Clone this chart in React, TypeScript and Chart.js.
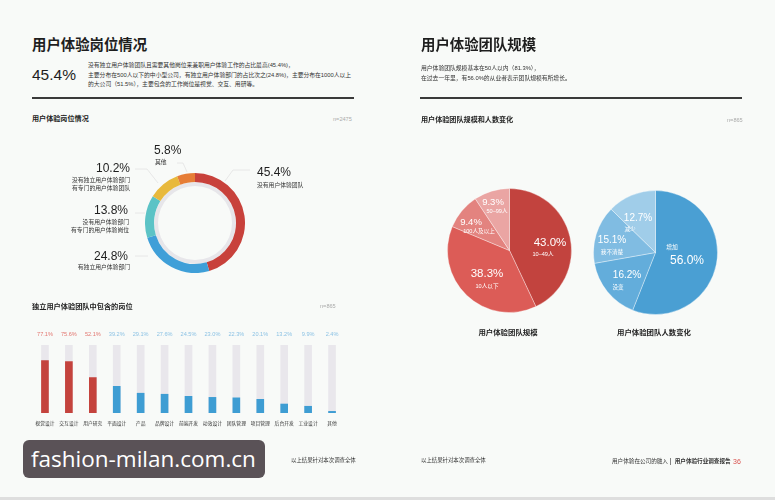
import React, { useEffect, useRef } from "react";
import { Chart, registerables } from "chart.js";
Chart.register(...registerables);

// ---- data ----
const ringLabels = ["没有用户体验团队", "有独立用户体验部门", "没有用户体验部门 有专门的用户体验岗位", "没有独立用户体验部门 有专门的用户体验团队", "其他"];
const ringValues = [45.4, 24.8, 13.8, 10.2, 5.8];
const ringColors = ["#c8413b", "#3f9fd8", "#5cc3c6", "#e8b93c", "#e67d36"];

const roleLabels = ["视觉设计", "交互设计", "用户研究", "平面设计", "产品", "品牌设计", "前端开发", "动效设计", "团队管理", "项目管理", "后台开发", "工业设计", "其他"];
const roleValues = [77.1, 75.6, 52.1, 39.2, 29.1, 27.6, 24.5, 23.0, 22.3, 20.1, 13.2, 9.9, 2.4];
const roleHighlight = 3; // first N in red

const sizeLabels = ["10–49人", "10人以下", "100人及以上", "50–99人"];
const sizeValues = [43.0, 38.3, 9.4, 9.3];
const sizeColors = ["#c2433e", "#dc5c57", "#e3837f", "#eaa5a3"];

const changeLabels = ["增加", "没变", "我不清楚", "减少"];
const changeValues = [56.0, 16.2, 15.1, 12.7];
const changeColors = ["#4a9fd3", "#63addb", "#80bce2", "#a0cde9"];

const FONT = '"Liberation Sans", "Noto Sans CJK SC", sans-serif';

function T({ x, y, s, c = "#333", w = 400, a = "l", children }: any) {
  const tx = a === "l" ? "0" : a === "r" ? "-100%" : "-50%";
  return (
    <div
      style={{
        position: "absolute",
        left: x,
        top: y,
        transform: `translate(${tx}, -50%)`,
        whiteSpace: "nowrap",
        fontSize: s,
        lineHeight: 1,
        color: c,
        fontWeight: w,
      }}
    >
      {children}
    </div>
  );
}

export default function App() {
  const ringRef = useRef<HTMLCanvasElement>(null);
  const barRef = useRef<HTMLCanvasElement>(null);
  const pie1Ref = useRef<HTMLCanvasElement>(null);
  const pie2Ref = useRef<HTMLCanvasElement>(null);

  useEffect(() => {
    const base: any = {
      responsive: false,
      maintainAspectRatio: false,
      animation: false,
      events: [],
      plugins: { legend: { display: false }, tooltip: { enabled: false } },
    };

    const ring = new Chart(ringRef.current!, {
      type: "doughnut",
      data: {
        labels: ringLabels,
        datasets: [
          { data: ringValues, backgroundColor: ringColors, borderWidth: 0, weight: 9 } as any,
          { data: [100], backgroundColor: ["#e7e6ea"], borderWidth: 0, weight: 4 } as any,
        ],
      },
      options: { ...base, cutout: "74%" },
    });

    const barLabelPlugin = {
      id: "barLabels",
      afterDatasetsDraw(chart: any) {
        const { ctx, chartArea, scales } = chart;
        ctx.save();
        ctx.textAlign = "center";
        ctx.textBaseline = "middle";
        roleValues.forEach((v, i) => {
          const x = scales.x.getPixelForValue(i);
          ctx.font = `5.6px ${FONT}`;
          ctx.fillStyle = i < roleHighlight ? "#e27670" : "#8cc2e4";
          ctx.fillText(v.toFixed(1) + "%", x, chartArea.top - 11);
          ctx.font = `4.8px ${FONT}`;
          ctx.fillStyle = "#333";
          ctx.fillText(roleLabels[i], x, chartArea.bottom + 11);
        });
        ctx.restore();
      },
    };

    const bar = new Chart(barRef.current!, {
      type: "bar",
      data: {
        labels: roleLabels,
        datasets: [
          {
            data: roleValues,
            backgroundColor: roleValues.map((_, i) => (i < roleHighlight ? "#c4433d" : "#3e9dd3")),
            barThickness: 7,
            grouped: false,
            order: 0,
          } as any,
          {
            data: roleValues.map(() => 100),
            backgroundColor: "#e9e7ec",
            barThickness: 7,
            grouped: false,
            order: 1,
          } as any,
        ],
      },
      options: {
        ...base,
        layout: { padding: { left: 13, right: 16, top: 25, bottom: 22 } },
        scales: {
          x: { display: false },
          y: { display: false, min: 0, max: 100 },
        },
      },
      plugins: [barLabelPlugin],
    });

    const pie1 = new Chart(pie1Ref.current!, {
      type: "pie",
      data: {
        labels: sizeLabels,
        datasets: [{ data: sizeValues, backgroundColor: sizeColors, borderWidth: 1, borderColor: "rgba(255,255,255,0.35)" }],
      },
      options: { ...base },
    });
    const pie2 = new Chart(pie2Ref.current!, {
      type: "pie",
      data: {
        labels: changeLabels,
        datasets: [{ data: changeValues, backgroundColor: changeColors, borderWidth: 1, borderColor: "rgba(255,255,255,0.35)" }],
      },
      options: { ...base },
    });

    return () => {
      ring.destroy();
      bar.destroy();
      pie1.destroy();
      pie2.destroy();
    };
  }, []);

  const abs = (l: number, t: number): any => ({ position: "absolute", left: l, top: t });
  const W = "#fff";

  return (
    <div
      style={{
        position: "fixed",
        left: 0,
        top: 0,
        width: 775,
        height: 500,
        background: "#f8faf8",
        overflow: "hidden",
        fontFamily: FONT,
        color: "#222",
      }}
    >
      {/* ---------- left page ---------- */}
      <T x={32} y={45} s={14.4} w={700} c="#1e1e1e">用户体验岗位情况</T>
      <T x={32} y={75} s={15.5} w={400} c="#1e1e1e">45.4%</T>
      <T x={88} y={66} s={5.8} c="#333">没有独立用户体验团队且需要其他岗位来兼职用户体验工作的占比最高(45.4%)，</T>
      <T x={88} y={76} s={5.8} c="#333">主要分布在500人以下的中小型公司，有独立用户体验部门的占比次之(24.8%)，主要分布在1000人以上</T>
      <T x={88} y={85} s={5.8} c="#333">的大公司（51.5%），主要包含的工作岗位是视觉、交互、用研等。</T>
      <div style={{ ...abs(32, 97), width: 322, height: 1.5, background: "#3a3a3a" }} />
      <T x={32} y={120} s={7.1} w={700} c="#222">用户体验岗位情况</T>
      <T x={333} y={120} s={5.6} c="#aaa">n=2475</T>

      <canvas ref={ringRef} width={100} height={100} style={{ ...abs(145, 173), width: 100, height: 100 }} />

      <svg style={{ ...abs(0, 0), pointerEvents: "none" }} width={775} height={500}>
        <g stroke="#e2e2e2" strokeWidth={0.8} fill="none">
          <polyline points="250,170 233,170 225,181" />
          <polyline points="177,163 183,163 187,172" />
          <polyline points="135,169 147,169 158,183" />
          <polyline points="135,213 145,213" />
          <polyline points="135,256 148,256" />
        </g>
      </svg>

      <T x={257} y={172} s={12} w={500} c="#1e1e1e">45.4%</T>
      <T x={257} y={186} s={5.8} c="#333">没有用户体验团队</T>
      <T x={154} y={150} s={12} w={500} c="#1e1e1e">5.8%</T>
      <T x={155} y={163} s={5.8} c="#333">其他</T>
      <T x={130} y={168} s={12} w={500} c="#1e1e1e" a="r">10.2%</T>
      <T x={130} y={181} s={5.8} c="#333" a="r">没有独立用户体验部门</T>
      <T x={130} y={189} s={5.8} c="#333" a="r">有专门的用户体验团队</T>
      <T x={128} y={210} s={12} w={500} c="#1e1e1e" a="r">13.8%</T>
      <T x={129} y={223} s={5.8} c="#333" a="r">没有用户体验部门</T>
      <T x={129} y={231} s={5.8} c="#333" a="r">有专门的用户体验岗位</T>
      <T x={128} y={256} s={12} w={500} c="#1e1e1e" a="r">24.8%</T>
      <T x={130} y={268} s={5.8} c="#333" a="r">有独立用户体验部门</T>

      <T x={32} y={307} s={7.2} w={700} c="#222">独立用户体验团队中包含的岗位</T>
      <T x={320} y={307} s={5.6} c="#aaa">n=865</T>
      <canvas ref={barRef} width={340} height={115} style={{ ...abs(20, 320), width: 340, height: 115 }} />

      <T x={291} y={461} s={5.4} c="#333">以上结果针对本次调查全体</T>

      {/* ---------- right page ---------- */}
      <T x={421} y={45} s={14.4} w={700} c="#1e1e1e">用户体验团队规模</T>
      <T x={421} y={69} s={5.8} c="#333">用户体验团队规模基本在50人以内（81.3%），</T>
      <T x={421} y={79} s={5.8} c="#333">在过去一年里，有56.0%的从业者表示团队规模有所增长。</T>
      <div style={{ ...abs(420, 97), width: 322, height: 1.5, background: "#3a3a3a" }} />
      <T x={421} y={121} s={7.1} w={700} c="#222">用户体验团队规模和人数变化</T>
      <T x={727} y={121} s={5.6} c="#aaa">n=865</T>

      <canvas ref={pie1Ref} width={125} height={125} style={{ ...abs(447, 188), width: 125, height: 125 }} />
      <canvas ref={pie2Ref} width={125} height={125} style={{ ...abs(593, 190), width: 125, height: 125 }} />

      <T x={550} y={243} s={11.5} c={W} a="c">43.0%</T>
      <T x={543} y={255} s={5.6} c={W} a="c">10–49人</T>
      <T x={487} y={274} s={11.5} c={W} a="c">38.3%</T>
      <T x={487} y={287} s={5.6} c={W} a="c">10人以下</T>
      <T x={471} y={222} s={9.5} c={W} a="c">9.4%</T>
      <T x={479} y={232} s={5.6} c={W} a="c">100人及以上</T>
      <T x={493} y={202} s={9.5} c={W} a="c">9.3%</T>
      <T x={497} y={212} s={5.6} c={W} a="c">50–99人</T>

      <T x={672} y={248} s={5.8} c={W} a="c">增加</T>
      <T x={687} y={260} s={12} c={W} a="c">56.0%</T>
      <T x={627} y={275} s={10} c={W} a="c">16.2%</T>
      <T x={618} y={288} s={5.6} c={W} a="c">没变</T>
      <T x={612} y={240} s={10} c={W} a="c">15.1%</T>
      <T x={612} y={253} s={5.6} c={W} a="c">我不清楚</T>
      <T x={638} y={218} s={10} c={W} a="c">12.7%</T>
      <T x={630} y={230} s={5.6} c={W} a="c">减少</T>

      <T x={508} y={333} s={7.4} w={700} c="#222" a="c">用户体验团队规模</T>
      <T x={654} y={333} s={7.4} w={700} c="#222" a="c">用户体验团队人数变化</T>

      <T x={421} y={461} s={5.4} c="#333">以上结果针对本次调查全体</T>
      <T x={612} y={461} s={5.6} c="#333">用户体验在公司的融入 <span style={{ fontSize: 8, color: "#444" }}>|</span> &nbsp;<b>用户体验行业调查报告</b></T>
      <T x={733} y={461} s={7} c="#d9534f">36</T>

      <div style={{ ...abs(0, 497), width: 775, height: 3, background: "#dedede" }} />

      {/* watermark */}
      <div
        style={{
          ...abs(23, 440),
          width: 242,
          height: 38,
          background: "#5a5257",
          borderRadius: 6,
          color: "#fff",
          fontFamily: '"Open Sans", sans-serif',
          fontSize: 22.5,
          lineHeight: "38px",
          paddingLeft: 8,
          boxSizing: "border-box",
          whiteSpace: "nowrap",
        }}
      >
        fashion-milan.com.cn
      </div>
    </div>
  );
}
